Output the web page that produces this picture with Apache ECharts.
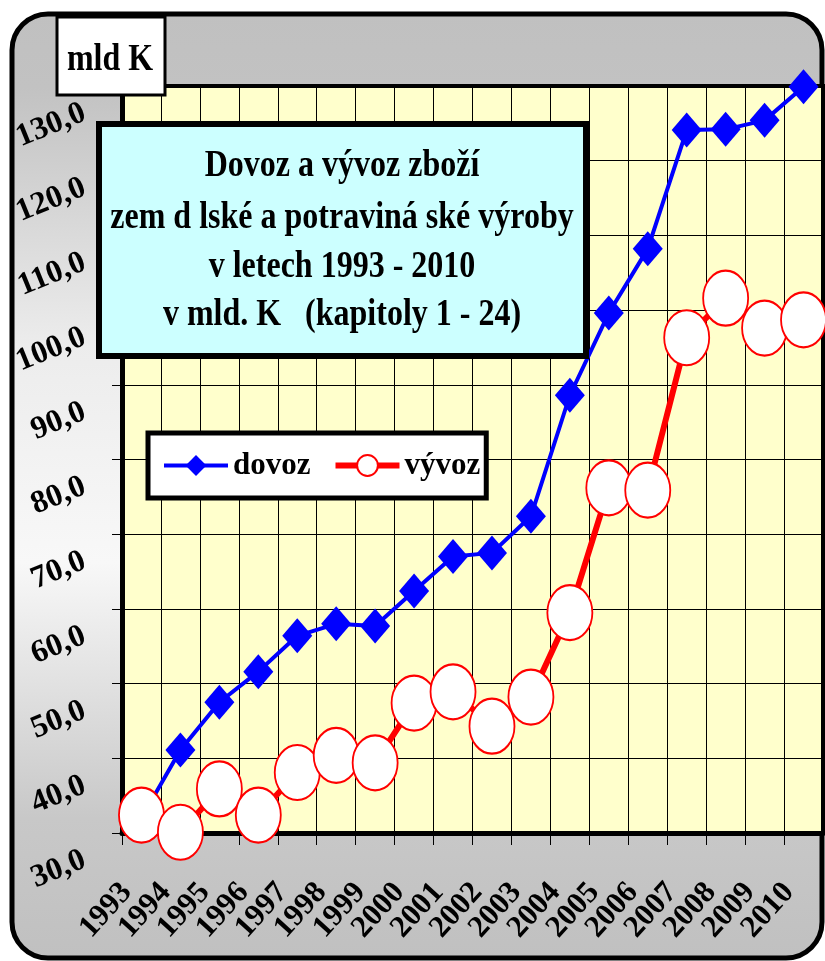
<!DOCTYPE html>
<html>
<head>
<meta charset="utf-8">
<script src="https://cdn.jsdelivr.net/npm/echarts@6/dist/echarts.min.js"></script>
<style>
html, body { margin: 0; padding: 0; background: #fff; }
#chart { width: 825px; height: 961px; }
</style>
</head>
<body>
<div id="chart"></div>
<script>
var years = ['1993', '1994', '1995', '1996', '1997', '1998', '1999', '2000', '2001',
	'2002', '2003', '2004', '2005', '2006', '2007', '2008', '2009', '2010'];
// dovoz (import), mld Kč
var dovoz = [32.0, 41.1, 47.5, 51.6, 56.4, 58.0, 57.7, 62.4, 67.0,
	67.5, 72.4, 88.6, 99.6, 108.2, 124.1, 124.2, 125.4, 129.9];
// vývoz (export), mld Kč
var vyvoz = [32.4, 30.1, 35.9, 32.4, 38.1, 40.4, 39.4, 47.4, 48.9,
	44.3, 48.2, 59.5, 76.2, 75.9, 96.3, 101.6, 97.6, 98.7];
var yMin = 30, yMax = 130, yStep = 10;
var titleLines = ['Dovoz a vývoz zboží', 'zem d lské a potraviná ské výroby',
	'v letech 1993 - 2010', 'v mld. K   (kapitoly 1 - 24)'];
var unitText = 'mld K';

var serif = '"Liberation Serif", "Times New Roman", serif';
var chart = echarts.init(document.getElementById('chart'));

//标题文字
var titleEls = [];
var lineY = [166, 218, 267, 315];
for (var i = 0; i < titleLines.length; i++) {
	titleEls.push({
		type: 'text', x: 342, y: lineY[i], scaleY: 1.2, z: 101,
		style: {
			text: titleLines[i], fill: '#000', align: 'center', verticalAlign: 'middle',
			font: 'bold 32px ' + serif
		}
	});
}

var option = {
	animation: false,
	graphic: {
		elements: [{
			type: 'rect', z: -10,
			shape: { x: 12, y: 14, width: 810, height: 944, r: 36 },
			style: {
				fill: new echarts.graphic.LinearGradient(0, 0, 0, 1, [
					{ offset: 0, color: '#c0c0c0' },
					{ offset: 0.08, color: '#c2c2c2' },
					{ offset: 0.35, color: '#ececec' },
					{ offset: 0.58, color: '#f8f8f8' },
					{ offset: 0.85, color: '#c8c8c8' },
					{ offset: 1, color: '#c0c0c0' }
				]),
				stroke: '#000', lineWidth: 5
			}
		}, {
			type: 'rect', z: 100,
			shape: { x: 57, y: 17, width: 108, height: 78 },
			style: { fill: '#fff', stroke: '#000', lineWidth: 3 }
		}, {
			type: 'text', x: 110, y: 60, scaleY: 1.2, z: 101,
			style: {
				text: unitText, fill: '#000', align: 'center', verticalAlign: 'middle',
				font: 'bold 32px ' + serif
			}
		}, {
			type: 'rect', z: 100,
			shape: { x: 99, y: 124, width: 487, height: 232 },
			style: { fill: '#ccffff', stroke: '#000', lineWidth: 6 }
		}].concat(titleEls)
	},
	legend: {
		left: 148, top: 433,
		data: ['dovoz', 'vývoz'],
		backgroundColor: '#fff',
		borderColor: '#000', borderWidth: 5,
		padding: [17, 6, 17, 14],
		itemGap: 22, itemWidth: 64, itemHeight: 26,
		lineStyle: { width: 'inherit' },
		textStyle: { color: '#000', fontSize: 31, fontWeight: 'bold', fontFamily: serif },
		z: 50
	},
	grid: {
		left: 122, right: 2, top: 86, bottom: 128,
		outerBoundsMode: 'none', containLabel: false,
		show: true, backgroundColor: '#ffffcc',
		borderColor: '#000', borderWidth: 4
	},
	xAxis: {
		type: 'category', data: years, boundaryGap: true,
		axisLine: { lineStyle: { color: '#000', width: 5 } },
		axisTick: { show: true, length: 12, lineStyle: { color: '#000', width: 1 } },
		splitLine: { show: true, lineStyle: { color: '#000', width: 1 } },
		axisLabel: {
			interval: 0, rotate: 48, margin: 38, padding: [0, 22, 0, 0],
			color: '#000', fontSize: 31, fontWeight: 'bold', fontFamily: serif
		}
	},
	yAxis: {
		type: 'value', min: yMin, max: yMax, interval: yStep,
		axisLine: { show: true, lineStyle: { color: '#000', width: 5 } },
		axisTick: { show: true, length: 10, lineStyle: { color: '#000', width: 1 } },
		splitLine: { show: true, lineStyle: { color: '#000', width: 1 } },
		axisLabel: {
			rotate: 22, margin: 48, verticalAlign: 'top', lineHeight: 56,
			showMinLabel: true, showMaxLabel: true, hideOverlap: false,
			color: '#000', fontSize: 32, fontWeight: 'bold', fontFamily: serif,
			formatter: function (v) { return v.toFixed(1).replace('.', ','); }
		}
	},
	series: [{
		name: 'dovoz', type: 'line', data: dovoz,
		symbol: 'diamond', symbolSize: [30, 35],
		lineStyle: { color: '#0000ff', width: 4 },
		itemStyle: { color: '#0000ff' },
		z: 3
	}, {
		name: 'vývoz', type: 'line', data: vyvoz,
		symbol: 'circle', symbolSize: [45, 55],
		lineStyle: { color: '#ff0000', width: 6 },
		itemStyle: { color: '#ffffff', borderColor: '#ff0000', borderWidth: 2 },
		z: 4
	}]
};
chart.setOption(option);
</script>
</body>
</html>
